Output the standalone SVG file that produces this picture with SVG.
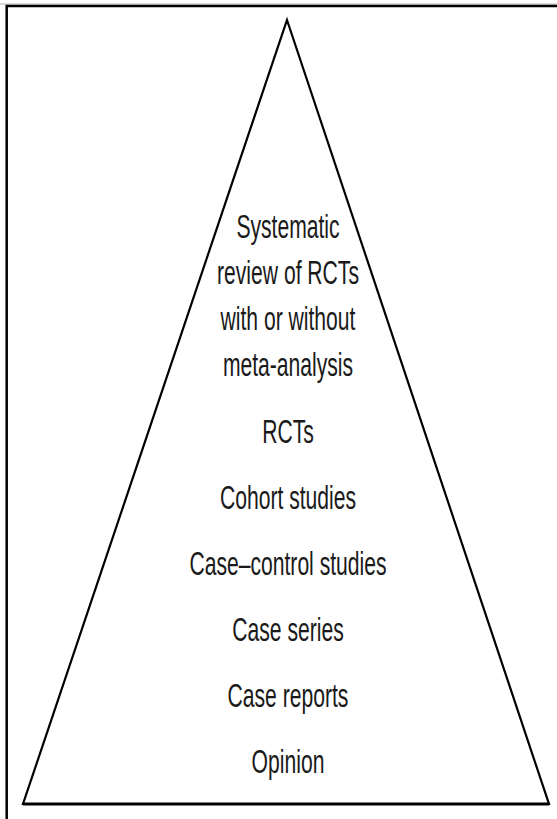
<svg xmlns="http://www.w3.org/2000/svg" width="557" height="819" viewBox="0 0 557 819">
  <style>
    .frame { fill: none; stroke: #000; stroke-width: 2.5; }
    .pyramid { fill: #fff; stroke: #000; stroke-width: 2.2; stroke-linejoin: miter; }
    .lbl { font-family: "Liberation Sans", Arial, sans-serif; font-size: 33px; fill: #1a1a1a; text-anchor: middle; }
  </style>
  <rect width="557" height="819" fill="#fff"/>
  <!-- border -->
  <g id="frame">
    <line x1="0" y1="4" x2="557" y2="4" stroke="#b0b0b0" stroke-width="1"/>
    <polyline class="frame" points="6.7,819 6.7,6 557,6"/>
  </g>
  <!-- evidence pyramid -->
  <g id="pyramid">
    <polygon class="pyramid" points="287,20 549,804 23,804"/>
    <line x1="23" y1="804" x2="549" y2="804" stroke="#000" stroke-width="2.8"/>
  </g>
  <!-- levels, condensed horizontally about the centre line -->
  <g id="levels" transform="translate(288,0) scale(0.64,1)">
    <g id="level-systematic-review">
      <text class="lbl" x="0" y="238">Systematic</text>
      <text class="lbl" x="0" y="284">review of RCTs</text>
      <text class="lbl" x="0" y="330">with or without</text>
      <text class="lbl" x="0" y="376">meta-analysis</text>
    </g>
    <g id="level-rcts"><text class="lbl" x="0" y="443">RCTs</text></g>
    <g id="level-cohort"><text class="lbl" x="0" y="509">Cohort studies</text></g>
    <g id="level-case-control"><text class="lbl" x="0" y="575">Case–control studies</text></g>
    <g id="level-case-series"><text class="lbl" x="0" y="641">Case series</text></g>
    <g id="level-case-reports"><text class="lbl" x="0" y="707">Case reports</text></g>
    <g id="level-opinion"><text class="lbl" x="0" y="773">Opinion</text></g>
  </g>
</svg>
